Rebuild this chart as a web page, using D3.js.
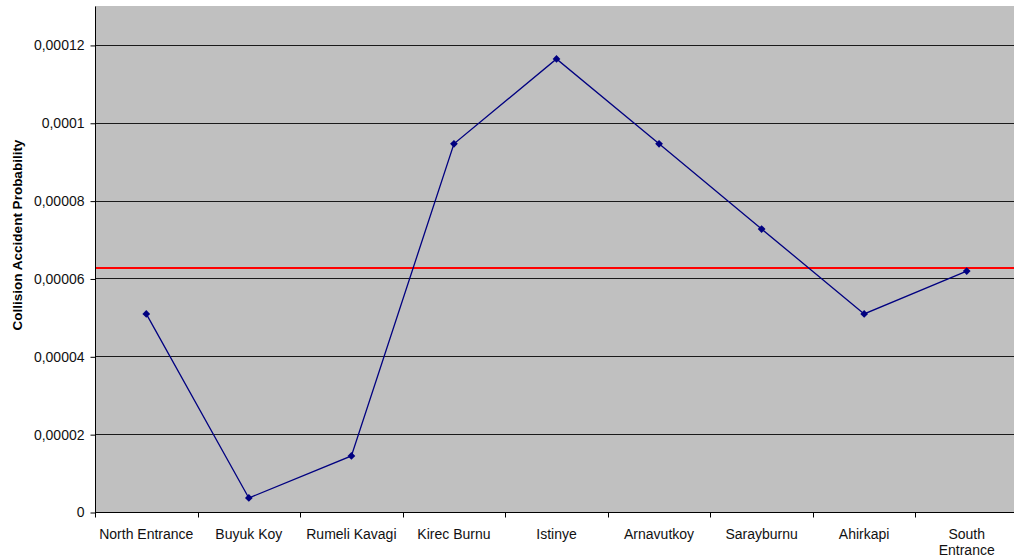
<!DOCTYPE html>
<html>
<head>
<meta charset="utf-8">
<script src="https://cdn.jsdelivr.net/npm/d3@7"></script>
<style>
  html, body { margin: 0; padding: 0; background: #fff; }
  svg { display: block; font-family: "Liberation Sans", Arial, sans-serif; }
</style>
</head>
<body>
<svg id="chart" width="1014" height="559"></svg>
<script>
// Locations along the strait, north to south
const categories = ["North Entrance", "Buyuk Koy", "Rumeli Kavagi", "Kirec Burnu", "Istinye",
                    "Arnavutkoy", "Sarayburnu", "Ahirkapi", "South Entrance"];
// Collision accident probability at each location
const probabilities = [0.0000509, 0.0000036, 0.0000144, 0.0000946, 0.0001164,
                       0.0000946, 0.0000727, 0.0000509, 0.0000619];
// Reference level (horizontal red line)
const thresholdValue = [0.0000627];
// Y axis tick values and labels
const yTicks = [0, 0.00002, 0.00004, 0.00006, 0.00008, 0.0001, 0.00012];
const yTickLabels = ["0", "0,00002", "0,00004", "0,00006", "0,00008", "0,0001", "0,00012"];
const yMax = 0.00013;

const svg = d3.select("#chart");
const margin = { left: 95, top: 6, right: -4, bottom: 47 };
const W = 1014, H = 559;
const x0 = margin.left, x1 = W - margin.right;
const y0 = H - margin.bottom, y1 = margin.top;

const x = d3.scaleBand().domain(categories).range([x0, x1]).padding(0);
const y = d3.scaleLinear().domain([0, yMax]).range([y0, y1]);

// Plot background
svg.append("rect")
  .attr("x", x0).attr("y", y1)
  .attr("width", x1 - x0).attr("height", y0 - y1)
  .attr("fill", "#c0c0c0");

// Horizontal gridlines
svg.append("g")
  .selectAll("line")
  .data(yTicks.filter(d => d > 0))
  .join("line")
  .attr("x1", x0).attr("x2", x1)
  .attr("y1", d => Math.round(y(d)) + 0.5)
  .attr("y2", d => Math.round(y(d)) + 0.5)
  .attr("stroke", "#1a1a1a").attr("stroke-width", 1);

// Y axis
const yAxis = d3.axisLeft(y)
  .tickValues(yTicks)
  .tickFormat((d, i) => yTickLabels[i])
  .tickSize(5)
  .tickPadding(6);
const gy = svg.append("g")
  .attr("transform", `translate(${x0 + 0.5},0.5)`)
  .call(yAxis);
gy.select(".domain").attr("stroke", "#000").attr("d", `M0,${y1}V${y0}`);
gy.selectAll(".tick line").attr("stroke", "#000");
gy.selectAll(".tick text")
  .attr("font-size", 14).attr("fill", "#111")
  .attr("font-family", "Liberation Sans, Arial, sans-serif");

// X axis: ticks at band boundaries, labels centred in bands
const gx = svg.append("g").attr("transform", `translate(0,${Math.round(y0) + 0.5})`);
gx.append("line")
  .attr("x1", x0).attr("x2", x1).attr("y1", 0).attr("y2", 0)
  .attr("stroke", "#000");
const boundaries = categories.map(c => x(c)).concat([x1]);
gx.selectAll("line.tk")
  .data(boundaries)
  .join("line")
  .attr("class", "tk")
  .attr("x1", d => Math.round(d) + 0.5).attr("x2", d => Math.round(d) + 0.5)
  .attr("y1", 0).attr("y2", 5)
  .attr("stroke", "#000");

const labelLines = c => c === "South Entrance" ? ["South", "Entrance"] : [c];
const lbl = gx.selectAll("text")
  .data(categories)
  .join("text")
  .attr("x", d => x(d) + x.bandwidth() / 2)
  .attr("y", 26)
  .attr("text-anchor", "middle")
  .attr("font-size", 14)
  .attr("fill", "#111");
lbl.each(function (d) {
  const t = d3.select(this);
  labelLines(d).forEach((s, i) => {
    t.append("tspan")
      .attr("x", x(d) + x.bandwidth() / 2)
      .attr("dy", i === 0 ? 0 : 16)
      .text(s);
  });
});

// Y axis title
svg.append("text")
  .attr("transform", `translate(22,${(y0 + y1) / 2 - 24}) rotate(-90)`)
  .attr("text-anchor", "middle")
  .attr("font-size", 13.5)
  .attr("font-weight", "bold")
  .attr("fill", "#000")
  .text("Collision Accident Probability");

// Reference line
svg.append("g")
  .selectAll("line")
  .data(thresholdValue)
  .join("line")
  .attr("x1", x0 + 1).attr("x2", x1)
  .attr("y1", d => y(d)).attr("y2", d => y(d))
  .attr("stroke", "#ff0000").attr("stroke-width", 2);

// Probability series
const pts = categories.map((c, i) => ({ c, v: probabilities[i] }));
const line = d3.line()
  .x(d => x(d.c) + x.bandwidth() / 2)
  .y(d => y(d.v));
svg.append("path")
  .datum(pts)
  .attr("d", line)
  .attr("fill", "none")
  .attr("stroke", "#000080")
  .attr("stroke-width", 1.3);

// Diamond markers
svg.append("g")
  .selectAll("path")
  .data(pts)
  .join("path")
  .attr("d", d3.symbol().type(d3.symbolSquare).size(30))
  .attr("transform", d => `translate(${x(d.c) + x.bandwidth() / 2},${y(d.v)}) rotate(45)`)
  .attr("fill", "#000080");
</script>
</body>
</html>
